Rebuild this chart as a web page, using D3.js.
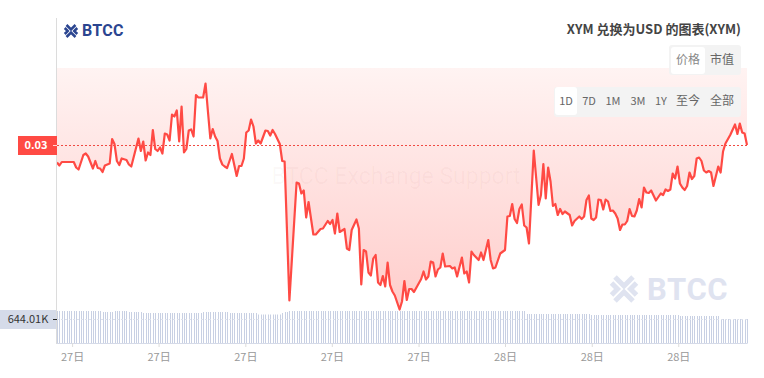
<!DOCTYPE html>
<html>
<head>
<meta charset="utf-8">
<style>
  html, body { margin: 0; padding: 0; background: #fff; overflow: hidden; }
  svg { display: block; font-family: "Noto Sans CJK SC", "Noto Sans", sans-serif; }
</style>
<script src="https://cdn.jsdelivr.net/npm/d3@7"></script>
</head>
<body>
<main></main>
<script>
const width = 764;
const height = 378;

// 5 minute steps since the left edge, with the price read at that step
const steps = [0,1,2,7,8,9,11,12,13,15,16,17,18,19,20,22,23,24,25,26,27,29,30,31,34,35,36,37,38,39,40,41,42,43,44,45,46,47,48,49,50,51,52,53,54,55,56,57,58,59,61,62,63,64,65,66,67,68,69,70,71,73,75,76,77,78,79,80,81,82,83,84,85,87,88,89,90,91,93,94,95,97,100,101,102,103,104,105,107,108,110,111,113,114,115,116,117,118,120,121,122,123,125,126,127,128,129,130,131,132,133,134,135,136,137,138,139,140,141,143,144,145,146,147,148,149,152,153,154,155,156,157,158,159,160,161,162,164,165,166,167,169,170,171,172,173,174,176,177,178,180,181,182,183,185,187,188,189,190,191,192,193,194,195,196,197,199,201,202,203,204,205,206,207,208,209,210,211,212,214,215,216,218,219,220,221,222,223,224,225,226,227,228,229,230,231,232,233,234,235,236,237,238,239,240,241,242,243,244,245,246,247,248,250,252,253,254,255,256,257,258,259,260,261,262,263,264,265,266,267,268,269,270,271,272,273,274,276,277,278,279,281,283,284,285,286,287,288];
const prices = [0.02965,0.02959,0.02966,0.02966,0.02955,0.02951,0.0298,0.02983,0.02977,0.02953,0.02968,0.02954,0.02953,0.02946,0.02959,0.02963,0.03012,0.03002,0.02968,0.0296,0.02973,0.0297,0.02961,0.02957,0.03013,0.02988,0.03007,0.02969,0.02985,0.0298,0.0303,0.02992,0.02988,0.02995,0.02983,0.03023,0.03021,0.03009,0.03061,0.03057,0.03069,0.03007,0.03077,0.02985,0.02992,0.03029,0.03031,0.03017,0.031,0.03095,0.03095,0.03123,0.03067,0.03013,0.03032,0.03017,0.03008,0.02973,0.02961,0.02957,0.02954,0.02982,0.02938,0.02958,0.02958,0.02973,0.03025,0.03029,0.03051,0.03037,0.03003,0.03009,0.03003,0.03029,0.03028,0.03019,0.0303,0.03022,0.03002,0.02968,0.02967,0.02689,0.02925,0.02923,0.02903,0.02909,0.02855,0.02886,0.02821,0.02821,0.02832,0.02833,0.02848,0.02842,0.0285,0.02823,0.02863,0.02826,0.02832,0.02793,0.0279,0.0283,0.02851,0.02833,0.02721,0.0279,0.02787,0.02745,0.02739,0.02773,0.0278,0.02725,0.0272,0.02738,0.02717,0.02765,0.0272,0.02707,0.02699,0.02671,0.02687,0.02728,0.0269,0.02712,0.02712,0.02706,0.02732,0.02747,0.02731,0.02737,0.02767,0.02765,0.02737,0.02751,0.02755,0.02783,0.02757,0.02758,0.02753,0.02755,0.02737,0.02775,0.02743,0.02747,0.02725,0.02787,0.0278,0.0277,0.02785,0.0277,0.0281,0.0277,0.02753,0.02755,0.02783,0.0279,0.02857,0.02858,0.02882,0.02852,0.02844,0.02872,0.02881,0.02839,0.02835,0.02803,0.02989,0.0288,0.029,0.02962,0.02893,0.02955,0.02927,0.02878,0.02882,0.0286,0.02872,0.02862,0.02867,0.0286,0.02839,0.02848,0.02857,0.02852,0.02857,0.0289,0.02899,0.02853,0.0285,0.02855,0.02891,0.0289,0.02871,0.02891,0.02887,0.02868,0.02869,0.02863,0.02853,0.0283,0.02841,0.02841,0.02848,0.02872,0.02858,0.02857,0.02869,0.02892,0.02875,0.02915,0.02905,0.02904,0.02909,0.02889,0.02903,0.029,0.02911,0.02908,0.02911,0.02943,0.02933,0.02957,0.02923,0.02915,0.0291,0.02918,0.02945,0.02932,0.02938,0.02973,0.02975,0.02968,0.02949,0.02945,0.02948,0.02945,0.02918,0.02957,0.02945,0.02987,0.03003,0.0302,0.03041,0.03022,0.03043,0.03025,0.03023,0.03];

// volume is nearly flat, so it is kept as levels (K) and how many bars hold each level
const volumeLevels = [854,828,854,828,802,828,802,762,802,828,854,775,749,723,644.01];
const volumeCounts = [19,5,6,6,25,11,12,10,1,2,99,27,37,17,12];

const tickSteps = [6.3,42.4,78.6,114.7,150.9,187,223.2,259.3];
const tickLabels = ["27日","27日","27日","27日","27日","28日","28日","28日"];

const chartButtons = ["价格","市值"];
const rangeButtons = ["1D","7D","1M","3M","1Y","至今","全部"];
const rangeCenters = [566,589,613,638,661,688,722];

const currentPrice = 0.03;
const currentVolume = 644.01;

const svg = d3.select("main")
    .append("svg")
        .attr("width", width)
        .attr("height", height);

const x = d3.scaleLinear().domain([0, 288]).range([57, 747]);
const y = d3.scaleLinear().domain([0.03154, 0.0267]).range([68, 310]);
const y_vol = d3.scaleLinear().domain([0, 644.01]).range([343.5, 319]);

const gradient = svg.append("defs").append("linearGradient")
    .attr("id", "fade")
    .attr("gradientUnits", "userSpaceOnUse")
    .attr("x1", 0).attr("x2", 0)
    .attr("y1", 68).attr("y2", 310);
gradient.append("stop").attr("offset", 0).attr("stop-color", "#fff3f2");
gradient.append("stop").attr("offset", 1).attr("stop-color", "#ffcdcb");

const points = steps.map((s, i) => ({step: s, price: prices[i]}));

// the fill sits between the top of the plot and the line
svg.append("path")
    .datum(points)
    .attr("fill", "url(#fade)")
    .attr("d", d3.area()
        .x(d => x(d.step))
        .y0(y.range()[0])
        .y1(d => y(d.price)));

// faint watermark text
svg.append("text")
    .attr("x", 396).attr("y", 184)
    .attr("text-anchor", "middle")
    .attr("font-family", "Roboto, sans-serif")
    .attr("font-size", 23)
    .attr("fill", "rgba(150,60,60,0.035)")
    .text("BTCC Exchange Support");

// BTCC logo, used twice
function logo(px, py, k, color, size, textX, textY) {
    const g = svg.append("g").attr("transform", `translate(${px},${py}) scale(${k})`);
    g.selectAll("path")
        .data(["M5 2L14 11L23 2", "M5 26L14 17L23 26", "M1.5 8L7.5 14L1.5 20", "M26.5 8L20.5 14L26.5 20"])
        .join("path")
            .attr("d", d => d)
            .attr("fill", "none")
            .attr("stroke", color)
            .attr("stroke-width", 5);
    svg.append("text")
        .attr("x", textX).attr("y", textY)
        .attr("font-family", "Roboto, sans-serif")
        .attr("font-weight", 700)
        .attr("font-size", size)
        .attr("letter-spacing", size * 0.02)
        .attr("fill", color)
        .text("BTCC");
}
logo(64, 24, 0.5, "#2b4590", 16, 82, 36);
logo(610, 275, 1, "#dfe3f0", 31, 647, 300);

// volume bars
const volumes = d3.merge(volumeLevels.map((v, i) => d3.range(volumeCounts[i]).map(() => v)));

svg.append("g")
    .selectAll("rect")
    .data(volumes)
    .join("rect")
        .attr("x", (d, i) => Math.round(x(i)))
        .attr("y", d => y_vol(d))
        .attr("width", 1)
        .attr("height", d => y_vol(0) - y_vol(d))
        .attr("fill", "#c8d0e3");

svg.append("line")
    .attr("x1", 57).attr("x2", 747)
    .attr("y1", y_vol(0)).attr("y2", y_vol(0))
    .attr("stroke", "#d5dae8");

svg.append("line")
    .attr("x1", 57).attr("x2", 747)
    .attr("y1", y_vol(currentVolume) + 0.5).attr("y2", y_vol(currentVolume) + 0.5)
    .attr("stroke", "#dde1ec")
    .attr("stroke-dasharray", "2 2");

// price line and current price marker
svg.append("line")
    .attr("x1", 53).attr("x2", 747)
    .attr("y1", y(currentPrice) + 0.5).attr("y2", y(currentPrice) + 0.5)
    .attr("stroke", "#f04a42")
    .attr("stroke-dasharray", "2 2");

svg.append("path")
    .datum(points)
    .attr("fill", "none")
    .attr("stroke", "#ff4a44")
    .attr("stroke-width", 2.2)
    .attr("stroke-linejoin", "round")
    .attr("d", d3.line().x(d => x(d.step)).y(d => y(d.price)));

// left axis line
svg.append("line")
    .attr("x1", 56.5).attr("x2", 56.5)
    .attr("y1", 18).attr("y2", 344)
    .attr("stroke", "#dcdcdc");

svg.append("rect")
    .attr("x", 18).attr("y", 136)
    .attr("width", 39).attr("height", 19)
    .attr("fill", "#ff4a44");
svg.append("line")
    .attr("x1", 53).attr("x2", 57)
    .attr("y1", y(currentPrice) + 0.5).attr("y2", y(currentPrice) + 0.5)
    .attr("stroke", "#ffd9d7");
svg.append("text")
    .attr("x", 36).attr("y", 149)
    .attr("text-anchor", "middle")
    .attr("font-size", 11)
    .attr("font-weight", 700)
    .attr("fill", "#fff")
    .text(d3.format(".2f")(currentPrice));

svg.append("rect")
    .attr("x", 0).attr("y", 310)
    .attr("width", 56).attr("height", 19)
    .attr("fill", "#d5dbe9");
svg.append("line")
    .attr("x1", 53).attr("x2", 57)
    .attr("y1", 319.5).attr("y2", 319.5)
    .attr("stroke", "#222");
svg.append("text")
    .attr("x", 28).attr("y", 323)
    .attr("text-anchor", "middle")
    .attr("font-size", 11)
    .attr("fill", "#333")
    .text(currentVolume + "K");

// x axis, domain line hidden
const axis_x = svg.append("g")
    .attr("transform", "translate(0, 343)")
    .call(d3.axisBottom(x)
        .tickValues(tickSteps)
        .tickFormat((d, i) => tickLabels[i])
        .tickSize(4)
        .tickPadding(6));
axis_x.select(".domain").remove();
axis_x.selectAll("line").attr("stroke", "#dcdcdc");
axis_x.selectAll("text")
    .attr("font-family", '"Noto Sans CJK SC", sans-serif')
    .attr("font-size", 11)
    .attr("fill", "#999");

// title and buttons
svg.append("text")
    .attr("x", 741).attr("y", 34)
    .attr("text-anchor", "end")
    .attr("font-size", 13)
    .attr("font-weight", 700)
    .attr("fill", "#444")
    .text("XYM 兑换为USD 的图表(XYM)");

svg.append("rect").attr("x", 669).attr("y", 45).attr("width", 72).attr("height", 30).attr("rx", 3).attr("fill", "#f3f3f3");
svg.append("rect").attr("x", 671).attr("y", 47).attr("width", 34).attr("height", 27).attr("rx", 3).attr("fill", "#fff");
svg.selectAll(".chart-button")
    .data(chartButtons)
    .join("text")
        .attr("class", "chart-button")
        .attr("x", (d, i) => 688 + i * 34)
        .attr("y", 64)
        .attr("text-anchor", "middle")
        .attr("font-size", 12)
        .attr("fill", (d, i) => i === 0 ? "#888" : "#666")
        .text(d => d);

svg.append("rect").attr("x", 554).attr("y", 87).attr("width", 187).attr("height", 30).attr("rx", 3).attr("fill", "#f3f3f3");
svg.append("rect").attr("x", 555).attr("y", 87).attr("width", 22).attr("height", 28).attr("rx", 3).attr("fill", "#fff");
svg.selectAll(".range-button")
    .data(rangeButtons)
    .join("text")
        .attr("class", "range-button")
        .attr("x", (d, i) => rangeCenters[i])
        .attr("y", 105)
        .attr("text-anchor", "middle")
        .attr("font-size", d => /[A-Z]/.test(d) ? 11 : 12)
        .attr("fill", "#666")
        .text(d => d);
</script>
</body>
</html>
